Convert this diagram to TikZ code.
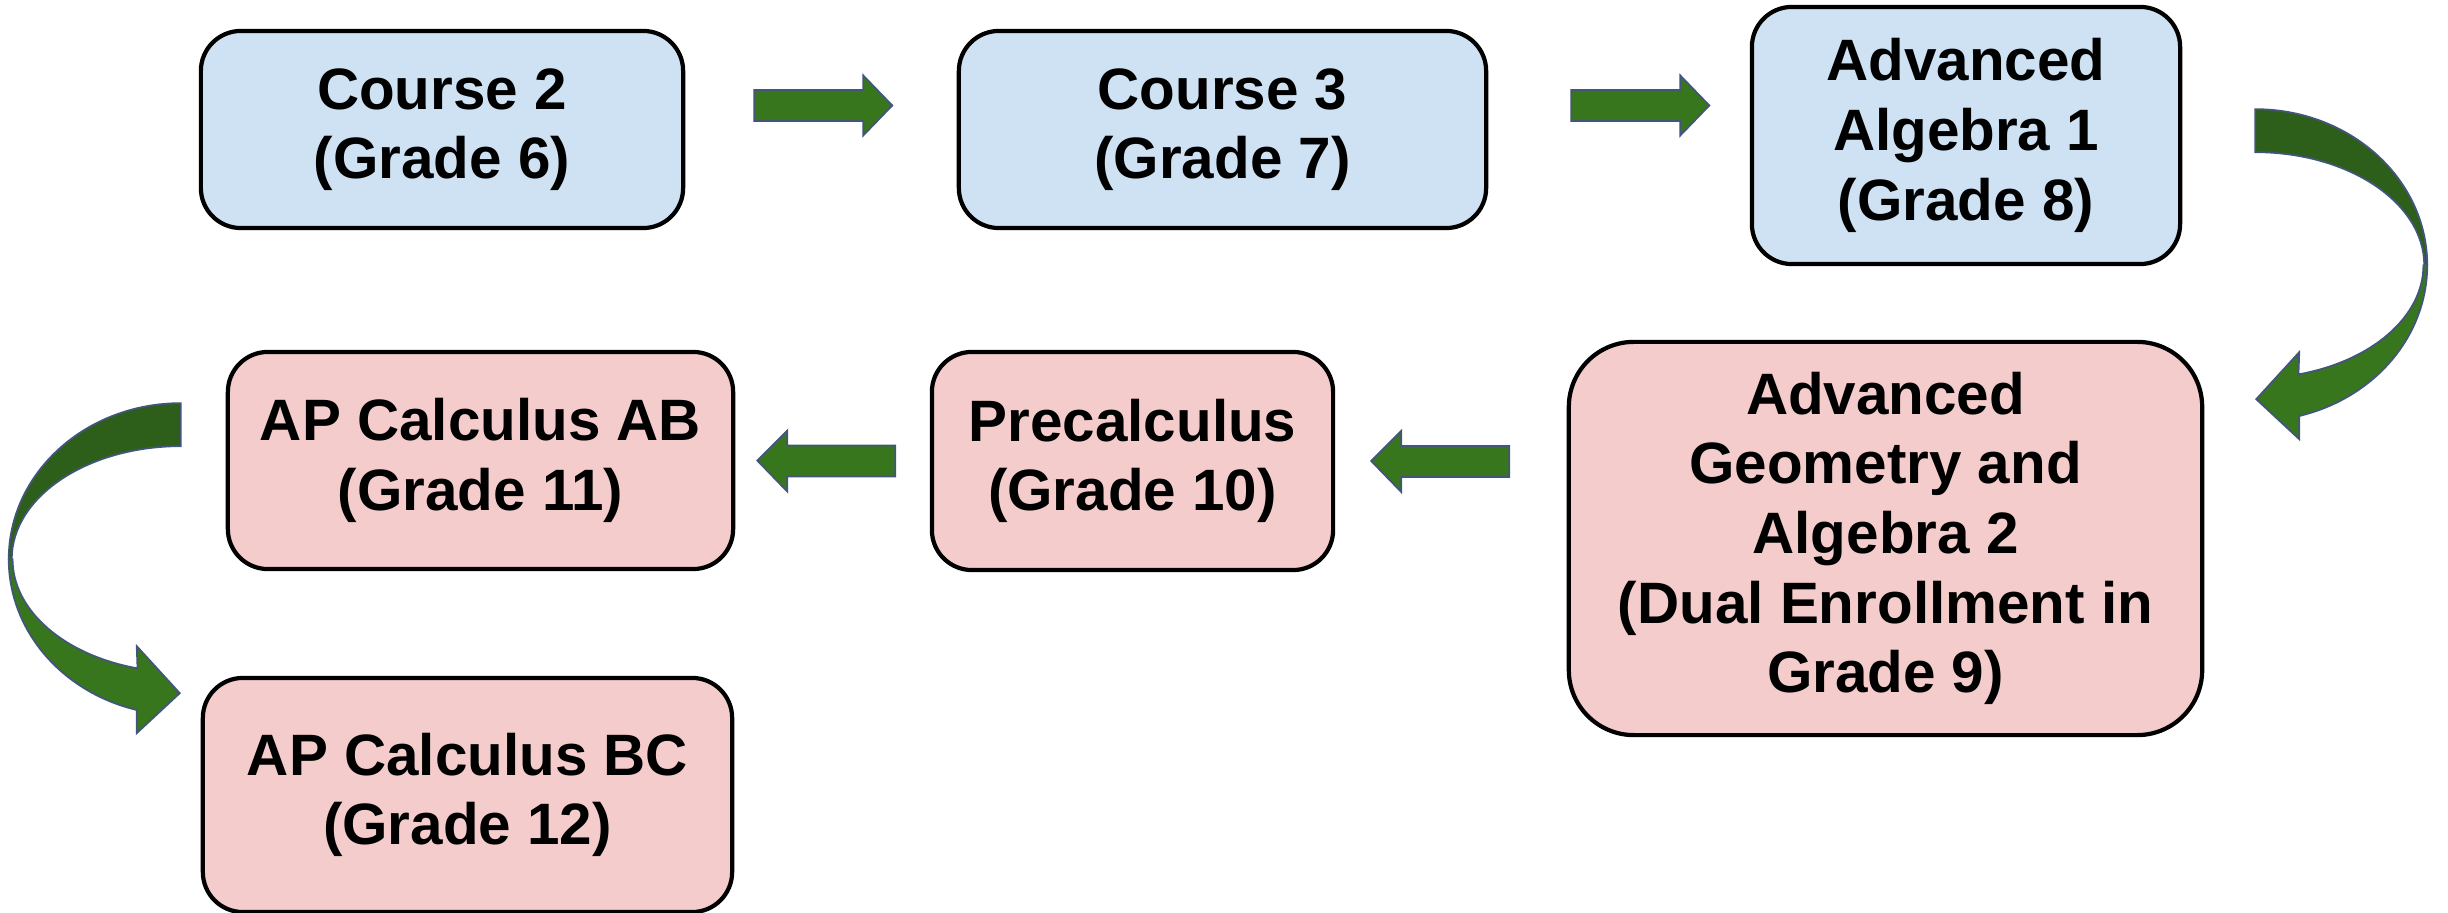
\documentclass[tikz,border=0pt]{standalone}
\usepackage{fontspec}
\setmainfont{Liberation Sans}
\usetikzlibrary{calc}
\definecolor{boxblue}{HTML}{CFE2F3}
\definecolor{boxpink}{HTML}{F4CCCC}
\definecolor{arrowgreen}{HTML}{38761D}
\definecolor{arrowdark}{HTML}{2D5E1A}
\definecolor{arrowedge}{HTML}{41567A}
\def\rblock{-- ++(109,0) -- ++(0,-14.5) -- ++(29,30) -- ++(-29,30) -- ++(0,-14.5) -- ++(-109,0) -- cycle}
\def\lblock{-- ++(30,-30) -- ++(0,15) -- ++(108,0) -- ++(0,31) -- ++(-108,0) -- ++(0,15) -- cycle}
\def\backpiece{arc[start angle=-90, end angle=0, x radius=172, y radius=156] -- (169,0) arc[start angle=0, end angle=-90, x radius=169, y radius=113] -- cycle}
\def\frontpiece{arc[start angle=0, end angle=75.2, x radius=172, y radius=156] -- (44,174) -- (1,134) -- (44,87) -- (43.2,109.2) arc[start angle=74.9, end angle=0, x radius=169, y radius=113] -- cycle}
\tikzset{
    course/.style={draw=black, line width=1.2pt, rounded corners=0.4cm, align=center, inner sep=0pt,
        font=\fontsize{16.6pt}{19.8pt}\selectfont\bfseries},
    msbox/.style={course, fill=boxblue},
    hsbox/.style={course, fill=boxpink},
    blockarrow/.style={fill=arrowgreen, draw=arrowedge, line width=0.5pt},
    backarrow/.style={blockarrow, fill=arrowdark},
}

\begin{document}
\begin{tikzpicture}[x=0.01cm, y=-0.01cm]
                \useasboundingbox (0,0) rectangle (2448,913);
                % middle school row
                \node[msbox, minimum width=4.82cm, minimum height=1.97cm] (c2) at (442,129.5) {Course 2\\(Grade 6)};
                \node[msbox, minimum width=5.27cm, minimum height=1.97cm] (c3) at (1222.5,129.5) {Course 3\\(Grade 7)};
                \node[msbox, minimum width=4.28cm, minimum height=2.57cm] (alg) at (1966,135.5) {Advanced\\Algebra 1\\(Grade 8)};
                % high school rows
                \node[hsbox, rounded corners=0.65cm, minimum width=6.33cm, minimum height=3.93cm] (geo) at (1885.5,538.5)
                    {Advanced\\Geometry and\\Algebra 2\\(Dual Enrollment in\\Grade 9)};
                \node[hsbox, minimum width=4.01cm, minimum height=2.18cm] (pre) at (1132.5,461) {Precalculus\\(Grade 10)};
                \node[hsbox, minimum width=5.05cm, minimum height=2.17cm] (ab) at (480.5,460.5) {AP Calculus AB\\(Grade 11)};
                \node[hsbox, minimum width=5.29cm, minimum height=2.34cm] (bc) at (467.5,795) {AP Calculus BC\\(Grade 12)};
                % straight arrows
                \draw[blockarrow] ($(c2.east)+(69,-39.5)$) \rblock;
                \draw[blockarrow] ($(c3.east)+(83,-39.5)$) \rblock;
                \draw[blockarrow] ($(pre.east)+(36,0)$) \lblock;
                \draw[blockarrow] ($(ab.east)+(22,0)$) \lblock;
                % curved arrows
                \begin{scope}[shift={($(alg.south east)+(73,-1)$)}]
                    \draw[backarrow] (0,-156) \backpiece;
                    \draw[blockarrow] (172,0) \frontpiece;
                \end{scope}
                \begin{scope}[shift={($(ab.south west)+(-45,-12)$)}, xscale=-1]
                    \draw[backarrow] (0,-156) \backpiece;
                    \draw[blockarrow] (172,0) \frontpiece;
                \end{scope}
            \end{tikzpicture}
\end{document}
